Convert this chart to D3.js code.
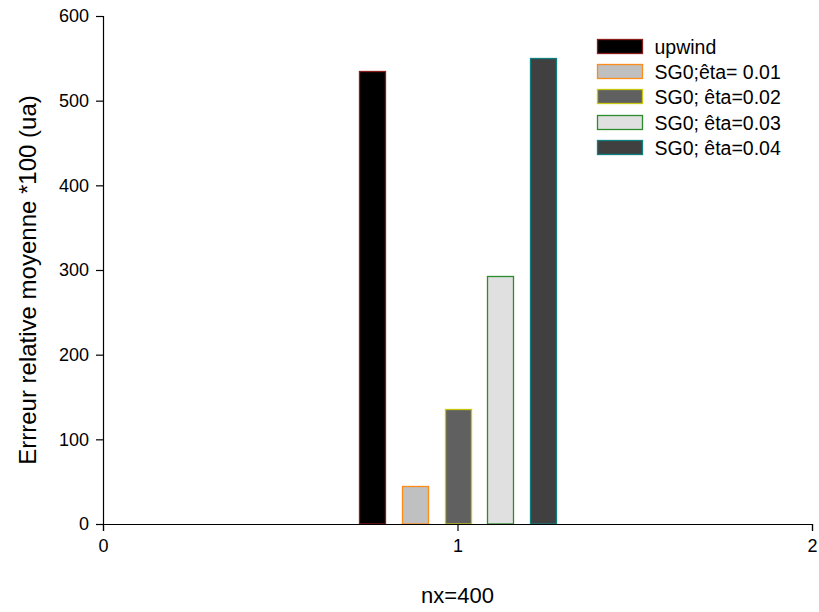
<!DOCTYPE html>
<html>
<head>
<meta charset="utf-8">
<script src="https://cdn.jsdelivr.net/npm/d3@7"></script>
<style>
  body { margin: 0; background: #fff; }
  svg text { font-family: "Liberation Sans", Arial, sans-serif; }
</style>
</head>
<body>
<div class="chart_frame"></div>
<script>
// data
var series = ['upwind', 'SG0;êta= 0.01', 'SG0; êta=0.02', 'SG0; êta=0.03', 'SG0; êta=0.04'];
var values = [535, 45, 136, 293, 550];
var groupX = 1;
var fills = ['#000000', '#c0c0c0', '#606060', '#e0e0e0', '#404040'];
var strokes = ['#8b1c1c', '#ff8c1a', '#c8c810', '#2a8c2a', '#0f8080'];
var xTicks = [0, 1, 2];
var yTicks = [0, 100, 200, 300, 400, 500, 600];

var width = 819, height = 612;
var plot = {'left': 103, 'right': 812, 'top': 16, 'bottom': 524};

var svg = d3.select('.chart_frame').append('svg')
    .attr('width', width)
    .attr('height', height);

var x = d3.scaleLinear().domain([0, 2]).range([plot.left, plot.right]);
var y = d3.scaleLinear().domain([0, 600]).range([plot.bottom, plot.top]);

// bars sit in a band around x = 1
var band = d3.scaleBand()
    .domain(series)
    .range([x(groupX - 0.3), x(groupX + 0.3)])
    .paddingInner(0.39)
    .paddingOuter(0.195);

svg.append('g').attr('class', 'bars')
    .selectAll('rect')
    .data(series)
    .enter().append('rect')
    .attr('x', function(d) { return Math.round(band(d)) + 0.5; })
    .attr('y', function(d, i) { return Math.round(y(values[i])) + 0.5; })
    .attr('width', Math.round(band.bandwidth()))
    .attr('height', function(d, i) { return y(0) - Math.round(y(values[i])) - 0.5; })
    .attr('fill', function(d, i) { return fills[i]; })
    .attr('stroke', function(d, i) { return strokes[i]; })
    .attr('stroke-width', 1.3);

// axes
var xAxis = svg.append('g')
    .attr('transform', 'translate(0,' + plot.bottom + ')')
    .call(d3.axisBottom(x).tickValues(xTicks).tickFormat(d3.format('d')).tickSizeOuter(0).tickSize(7).tickPadding(8));
var yAxis = svg.append('g')
    .attr('transform', 'translate(' + plot.left + ',0)')
    .call(d3.axisLeft(y).tickValues(yTicks).tickSizeOuter(0).tickSize(7).tickPadding(7));

[xAxis, yAxis].forEach(function(a) {
    a.selectAll('path, line').attr('stroke', '#000').attr('stroke-width', 1.2);
    a.selectAll('text').attr('font-size', 18).attr('fill', '#000')
        .style('font-family', '"Liberation Sans", Arial, sans-serif');
});

// axis titles
svg.append('text')
    .attr('x', x(1))
    .attr('y', 603)
    .attr('text-anchor', 'middle')
    .attr('font-size', 22)
    .text('nx=400');

svg.append('text')
    .attr('transform', 'translate(36,280) rotate(-90)')
    .attr('text-anchor', 'middle')
    .attr('font-size', 24)
    .text('Errreur relative moyenne *100 (ua)');

// legend
var legend = svg.append('g').attr('class', 'legend')
    .attr('transform', 'translate(597.5,39.5)');
var row = legend.selectAll('g')
    .data(series)
    .enter().append('g')
    .attr('transform', function(d, i) { return 'translate(0,' + Math.round(i * 25.2) + ')'; });
row.append('rect')
    .attr('x', 0).attr('y', 0)
    .attr('width', 45).attr('height', 14)
    .attr('fill', function(d, i) { return fills[i]; })
    .attr('stroke', function(d, i) { return strokes[i]; })
    .attr('stroke-width', 1.3);
row.append('text')
    .attr('x', 57).attr('y', 14)
    .attr('font-size', 19.5)
    .text(function(d) { return d; });
</script>
</body>
</html>
